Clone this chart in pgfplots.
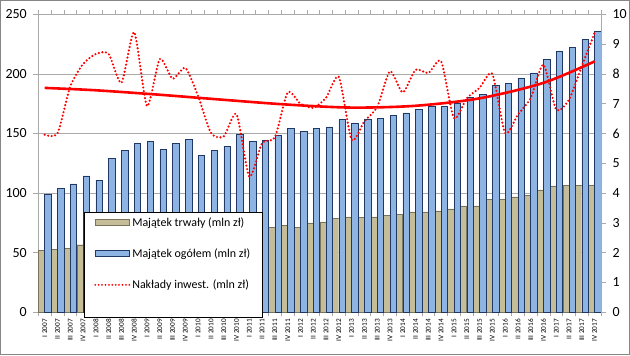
\documentclass[border=0pt]{standalone}
\usepackage{pgfplots}
\usepackage{pgfplotstable}
\pgfplotsset{compat=1.18}
\usepackage{fontspec}
\setmainfont{Carlito}
\definecolor{tanbar}{RGB}{196,189,151}
\definecolor{tanedge}{RGB}{120,115,90}
\definecolor{bluebar}{RGB}{142,180,227}
\definecolor{blueedge}{RGB}{31,56,100}
\definecolor{gridgray}{RGB}{170,170,170}
\definecolor{framegray}{RGB}{134,134,134}

\pgfplotstableread{
i blue tan inv
1 98.6 51.7 5.96
2 104.2 53.0 6.00
3 107.8 53.8 7.58
4 114.4 56.7 8.33
5 110.8 57.5 8.67
6 129.2 58.5 8.67
7 136.1 59.5 7.70
8 141.6 60.5 9.40
9 143.3 61.5 6.92
10 136.6 62.5 8.50
11 141.6 63.5 7.84
12 145.2 64.5 8.20
13 131.9 65.5 7.25
14 135.8 66.5 6.02
15 139.4 67.5 5.90
16 149.2 68.5 6.65
17 143.3 69.5 4.55
18 144.2 70.5 5.68
19 148.6 71.5 5.87
20 154.2 73.0 7.38
21 151.9 71.3 7.00
22 154.2 75.0 6.86
23 155.5 75.8 7.20
24 161.6 79.1 7.90
25 158.9 80.0 5.79
26 162.2 79.4 6.41
27 162.5 80.0 6.89
28 165.5 81.1 8.09
29 167.2 81.9 7.38
30 170.5 84.2 8.14
31 173.0 84.2 8.03
32 173.0 85.0 8.42
33 175.0 86.7 6.52
34 180.5 89.2 7.18
35 182.5 89.2 7.53
36 190.3 95.1 8.00
37 191.7 95.1 6.02
38 196.7 96.8 6.63
39 200.8 97.9 7.19
40 212.2 102.7 8.31
41 219.2 106.0 6.80
42 222.2 106.6 7.14
43 228.8 106.6 8.26
44 235.5 106.3 9.38
}\data

\begin{document}
\begin{tikzpicture}[x=1bp,y=1bp]
\path[draw=framegray, line width=1.3bp] (0.65,0.65) rectangle (629.35,354.35);
\begin{axis}[
  at={(38.3bp,42.7bp)}, anchor=south west,
  width=562.7bp, height=298bp, scale only axis,
  xmin=0.5, xmax=44.5, ymin=0, ymax=250,
  ytick={0,50,...,250},
  ymajorgrids, grid style={gridgray, line width=0.7bp},
  axis line style={gridgray, line width=0.8bp},
  xtick={1,...,44},
  xticklabels={I 2007,II 2007,III 2007,IV 2007,I 2008,II 2008,III 2008,IV 2008,I 2009,II 2009,III 2009,IV 2009,I 2010,II 2010,III 2010,IV 2010,I 2011,II 2011,III 2011,IV 2011,I 2012,II 2012,III 2012,IV 2012,I 2013,II 2013,III 2013,IV 2013,I 2014,II 2014,III 2014,IV 2014,I 2015,II 2015,III 2015,IV 2015,I 2016,II 2016,III 2016,IV 2016,I 2017,II 2017,III 2017,IV 2017},
  x tick label style={rotate=90, anchor=east, font=\fontsize{7.3}{8}\selectfont, inner sep=1.5bp},
  major x tick style={draw=none},
  minor xtick={0.5,1.5,...,44.5},
  minor x tick style={gridgray, line width=0.7bp},
  y tick style={gridgray, line width=0.7bp},
  tick align=outside, major tick length=5bp, minor tick length=4bp,
  y tick label style={font=\fontsize{14}{16}\selectfont, xshift=-3bp},
  /pgf/number format/assume math mode=true,
  clip=false,
]
\addplot[ybar, bar width=6.2bp, bar shift=-3.2bp, fill=tanbar, draw=tanedge, line width=0.4bp] table[x=i,y=tan]{\data};
\addplot[ybar, bar width=6.4bp, bar shift=3.3bp, fill=bluebar, draw=blueedge, line width=0.6bp] table[x=i,y=blue]{\data};
\end{axis}
\begin{axis}[
  at={(38.3bp,42.7bp)}, anchor=south west,
  width=562.7bp, height=298bp, scale only axis,
  xmin=0.5, xmax=44.5, ymin=0, ymax=10,
  ytick={0,1,...,10},
  axis y line*=right, axis x line=none,
  axis line style={gridgray, line width=0.8bp},
  y tick style={gridgray, line width=0.7bp},
  tick align=outside, major tick length=5bp,
  y tick label style={font=\fontsize{14}{16}\selectfont, xshift=3bp},
  /pgf/number format/assume math mode=true,
  legend cell align=left,
  legend style={at={(0.0812,0.3366)}, anchor=north west, draw=black, line width=0.6bp, fill=white,
    font=\fontsize{12}{14}\selectfont, row sep=17bp, inner xsep=10bp, inner ysep=3bp,
    nodes={inner sep=2bp}},
]
\addlegendimage{legend image code/.code={\draw[fill=tanbar,draw=tanedge,line width=0.5bp] (0bp,-3bp) rectangle (34bp,3bp);}}
\addlegendentry{Majątek trwały (mln zł)}
\addlegendimage{legend image code/.code={\draw[fill=bluebar,draw=blueedge,line width=0.6bp] (0bp,-3bp) rectangle (34bp,3bp);}}
\addlegendentry{Majątek ogółem (mln zł)}
\addplot[red, line width=2.4bp, dash pattern=on 0pt off 3.6bp, line cap=round, smooth, tension=0.4,
  legend image code/.code={\draw[red, line width=2bp, dash pattern=on 0pt off 3.4bp, line cap=round] (0bp,0bp) -- (34bp,0bp);}]
  table[x=i,y=inv]{\data};
\addlegendentry{Nakłady inwest. (mln zł)}
\addlegendimage{empty legend}
\addlegendentry{}
\addplot[red, line width=2.6bp, smooth, forget plot] coordinates {(1,7.53) (5,7.45) (10,7.30) (15,7.13) (20,6.97) (25,6.87) (30,6.93) (35,7.18) (40,7.70) (44,8.42)};
\end{axis}
\pgfresetboundingbox
\path (0,0) rectangle (630,355);
\end{tikzpicture}
\end{document}
